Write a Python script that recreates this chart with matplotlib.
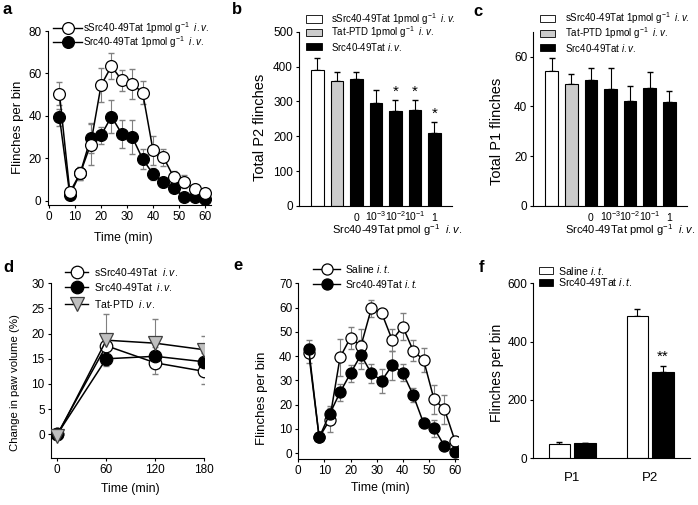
import numpy as np
import matplotlib
matplotlib.use('Agg')
import matplotlib.pyplot as plt
from matplotlib.lines import Line2D
from matplotlib.patches import Rectangle

plt.rcParams['font.family'] = 'Liberation Sans'
plt.rcParams['mathtext.fontset'] = 'custom'
plt.rcParams['mathtext.rm'] = 'Liberation Sans'
plt.rcParams['mathtext.it'] = 'Liberation Sans:italic'
plt.rcParams['font.size'] = 8

# ---- data ----
# a: flinches per 4-min bin, i.v. peptides
time_a = [4, 8, 12, 16, 20, 24, 28, 32, 36, 40, 44, 48, 52, 56, 60]
ssrc_a = [50.5, 4, 13, 26.5, 54.4, 63.4, 56.8, 55, 51, 23.7, 20.5, 11, 9, 5.5, 3.6]
ssrc_a_err = [5.5, 2, 3, 9.5, 8, 6, 5, 7, 5.5, 7, 4, 3, 3, 2, 2]
src_a = [39.4, 2.7, 13, 29.5, 30.8, 39.7, 31.5, 30, 19.7, 12.6, 8.7, 6, 1.6, 1.6, 0.6]
src_a_err = [4, 1.5, 3, 7, 4, 7.6, 6.5, 8, 4.5, 3, 2, 2, 1.5, 1.5, 1]

# b, c: totals per group
groups_bc = ['sSrc', 'Tat-PTD', '0', '1e-3', '1e-2', '1e-1', '1']
p2_b = [390, 358, 365, 295, 273, 275, 210]
p2_b_err = [35, 25, 20, 37, 30, 28, 30]
p2_b_sig = ['', '', '', '', '*', '*', '*']
p1_c = [54.4, 49.1, 50.7, 47.0, 42.1, 47.4, 41.8]
p1_c_err = [4.9, 4.0, 4.7, 8.4, 6.2, 6.6, 4.3]
dose_labels = ['0', r'10$^{-3}$', r'10$^{-2}$', r'10$^{-1}$', '1']
bar_colors = ['white', '#cccccc', 'black', 'black', 'black', 'black', 'black']

# d: paw volume
time_d = [0, 60, 120, 180]
ssrc_d = [0, 17.6, 14.2, 12.5]
ssrc_d_err = [0, 2.0, 2.3, 2.5]
src_d = [0, 15.0, 15.5, 14.4]
src_d_err = [0, 1.5, 1.8, 1.8]
tat_d = [-0.3, 18.7, 18.1, 16.8]
tat_d_err = [0, 5.2, 4.8, 2.8]

# e: i.t. time course
time_e = [4, 8, 12, 16, 20, 24, 28, 32, 36, 40, 44, 48, 52, 56, 60]
saline_e = [41.2, 6.5, 13.7, 39.5, 47.6, 44.2, 59.7, 57.6, 46.6, 52.2, 42.3, 38.4, 22.2, 18.1, 5.2]
saline_e_err = [4, 1.5, 5, 7.5, 4.5, 7, 3.5, 2, 4.5, 5.4, 4.5, 5, 6, 6, 1.5]
src_e = [43, 6.5, 16.1, 25.1, 32.9, 40.5, 32.9, 29.9, 36.3, 33.2, 24, 12.4, 10.3, 3, 0.7]
src_e_err = [3.5, 1.5, 3.5, 3.5, 3.5, 6, 4, 5, 6, 3.5, 3, 2, 3.5, 1.5, 1]

# f: phase totals
phases = ['P1', 'P2']
saline_f = [48, 487]
saline_f_err = [7, 24]
src_f = [51, 297]
src_f_err = [3, 21]
src_f_sig = ['', '**']

W, H = 698, 505
fig = plt.figure(figsize=(W / 100, H / 100), dpi=100)


def box(l, t, r, b):
    return [l / W, 1 - b / H, (r - l) / W, (b - t) / H]


def fxy(x, y):
    return x / W, 1 - y / H


def style(ax):
    ax.spines['top'].set_visible(False)
    ax.spines['right'].set_visible(False)
    for s in ('left', 'bottom'):
        ax.spines[s].set_linewidth(0.8)
    ax.tick_params(direction='out', length=2.5, width=0.8, labelsize=8.5, pad=1.8)


def place_label(ax, which, px, py):
    bb = ax.get_position()
    l, r = bb.x0 * W, bb.x1 * W
    t, b = (1 - bb.y1) * H, (1 - bb.y0) * H
    axis = ax.yaxis if which == 'y' else ax.xaxis
    axis.set_label_coords((px - l) / (r - l), (b - py) / (b - t))


def leg_line(x0, x1, y, text, tx, fs, **kw):
    xa, ya = fxy(x0, y)
    xb, _ = fxy(x1, y)
    fig.add_artist(Line2D([xa, xb], [ya, ya], color='black', lw=1.0,
                          transform=fig.transFigure))
    fig.add_artist(Line2D([(xa + xb) / 2], [ya], linestyle='none',
                          transform=fig.transFigure, **kw))
    fig.text(*fxy(tx, y), text, fontsize=fs, va='center', ha='left')


def leg_patch(x0, x1, y, h, color, text, tx, fs):
    xa, ya = fxy(x0, y + h / 2)
    fig.add_artist(Rectangle((xa, ya), (x1 - x0) / W, h / H, facecolor=color,
                             edgecolor='black', lw=0.6, transform=fig.transFigure))
    fig.text(*fxy(tx, y), text, fontsize=fs, va='center', ha='left')


ERR_GRAY = '#808080'
open_kw = dict(marker='o', mfc='white', mec='black', mew=0.9)
fill_kw = dict(marker='o', mfc='black', mec='black', mew=0.9)

# ---------------- a ----------------
ax = fig.add_axes(box(47.5, 31, 211, 205))
style(ax)
ax.errorbar(time_a, ssrc_a, yerr=ssrc_a_err, fmt='none', ecolor=ERR_GRAY,
            elinewidth=0.8, capsize=2, zorder=1)
ax.errorbar(time_a, src_a, yerr=src_a_err, fmt='none', ecolor=ERR_GRAY,
            elinewidth=0.8, capsize=2, zorder=1)
ax.plot(time_a, src_a, color='black', lw=1.1, ms=8.5, zorder=3, **fill_kw)
ax.plot(time_a, ssrc_a, color='black', lw=1.1, ms=8.5, zorder=4, **open_kw)
ax.set_xlim(-0.6, 62.3)
ax.set_ylim(-2, 80)
ax.set_xticks(range(0, 61, 10))
ax.set_yticks(range(0, 81, 20))
ax.set_ylabel('Flinches per bin', fontsize=9.5, va='center')
ax.set_xlabel('Time (min)', fontsize=8.8, va='center')
place_label(ax, 'y', 18.3, 127)
place_label(ax, 'x', 123.3, 238.3)
leg_line(53.3, 81.7, 28.3, r'sSrc40-49Tat 1pmol g$^{-1}$  $\mathit{i.v.}$', 83.3, 7.1,
         ms=8.5, **open_kw)
leg_line(53.3, 81.7, 41.7, r'Src40-49Tat 1pmol g$^{-1}$  $\mathit{i.v.}$', 83.3, 7.1,
         ms=8.5, **fill_kw)
fig.text(*fxy(7, 10), 'a', fontsize=12, fontweight='bold', ha='center', va='center')


# ---------------- b, c ----------------
def bar_panel(rect, vals, errs, ylim, yticks, ylabel, ylab_pos, xlab_pos, sig=None):
    ax = fig.add_axes(box(*rect))
    style(ax)
    x = np.arange(len(vals))
    ax.bar(x, vals, width=0.64, color=bar_colors, edgecolor='black', lw=0.8, zorder=2)
    ax.errorbar(x, vals, yerr=[np.zeros(len(errs)), errs], fmt='none', ecolor='black',
                elinewidth=0.8, capsize=2.5, zorder=1)
    if sig is not None:
        for xi, v, e, s in zip(x, vals, errs, sig):
            if s:
                ax.text(xi, v + e + ylim[1] * 0.008, s, ha='center', va='bottom', fontsize=11)
    ax.set_xlim(-0.94, 6.9)
    ax.set_ylim(*ylim)
    ax.set_yticks(yticks)
    ax.set_xticks(x[2:])
    ax.set_xticklabels(dose_labels, fontsize=7.5)
    for lab in ax.get_xticklabels():
        lab.set_va('baseline')
    ax.tick_params(axis='x', length=0, pad=11)
    ax.set_ylabel(ylabel, fontsize=10.5, va='center')
    ax.set_xlabel(r'Src40-49Tat pmol g$^{-1}$  $\mathit{i.v.}$', fontsize=8, va='center')
    place_label(ax, 'y', *ylab_pos)
    place_label(ax, 'x', *xlab_pos)
    return ax


bar_panel((299, 31.7, 452, 206), p2_b, p2_b_err, (0, 500), range(0, 501, 100),
          'Total P2 flinches', (260, 127.5), (397, 230.5), sig=p2_b_sig)
bar_panel((533.3, 31.7, 687, 206), p1_c, p1_c_err, (0, 70), range(0, 61, 20),
          'Total P1 flinches', (496.7, 131), (630, 230.5))

leg_bc = [r'sSrc40-49Tat 1pmol g$^{-1}$  $\mathit{i.v.}$',
          r'Tat-PTD 1pmol g$^{-1}$  $\mathit{i.v.}$',
          r'Src40-49Tat $\mathit{i.v.}$']
for lab, col, yb, yc in zip(leg_bc, bar_colors[:3], [19, 32.3, 46.7], [18.3, 33.3, 47.7]):
    leg_patch(306, 322, yb, 7.5, col, lab, 331, 7.0)
    leg_patch(540, 555, yc, 7.5, col, lab, 565, 7.0)
fig.text(*fxy(237, 10), 'b', fontsize=12, fontweight='bold', ha='center', va='center')
fig.text(*fxy(478, 12), 'c', fontsize=12, fontweight='bold', ha='center', va='center')

# ---------------- d ----------------
ax = fig.add_axes(box(50.7, 283.3, 204.3, 457.7))
style(ax)
tri_kw = dict(marker='v', mfc='#bfbfbf', mec='#404040', mew=0.9)
ax.errorbar(time_d, ssrc_d, yerr=[ssrc_d_err, np.zeros(4)], fmt='none', ecolor=ERR_GRAY,
            elinewidth=0.8, capsize=2, zorder=1)
ax.errorbar(time_d, src_d, yerr=src_d_err, fmt='none', ecolor=ERR_GRAY,
            elinewidth=0.8, capsize=2, zorder=1)
ax.errorbar(time_d, tat_d, yerr=[np.zeros(4), tat_d_err], fmt='none', ecolor=ERR_GRAY,
            elinewidth=0.8, capsize=2, zorder=1)
ax.plot(time_d, ssrc_d, color='black', lw=1.1, ms=9, zorder=3, **open_kw)
ax.plot(time_d, src_d, color='black', lw=1.1, ms=9, zorder=4, **fill_kw)
ax.plot(time_d, tat_d, color='black', lw=1.1, ms=10, zorder=5, **tri_kw)
ax.set_xlim(-8, 180)
ax.set_ylim(-4.65, 30)
ax.set_xticks(time_d)
ax.set_yticks(range(0, 31, 5))
ax.set_ylabel('Change in paw volume (%)', fontsize=8.2, va='center')
ax.set_xlabel('Time (min)', fontsize=8.8, va='center')
place_label(ax, 'y', 15, 382.5)
place_label(ax, 'x', 130, 489)
leg_line(65, 88.3, 271.7, r'sSrc40-49Tat  $\mathit{i.v.}$', 94.3, 7.5, ms=9, **open_kw)
leg_line(65, 88.3, 287.3, r'Src40-49Tat  $\mathit{i.v.}$', 94.3, 7.5, ms=9, **fill_kw)
leg_line(65, 88.3, 304.3, r'Tat-PTD  $\mathit{i.v.}$', 94.3, 7.5, ms=10, **tri_kw)
fig.text(*fxy(8, 267), 'd', fontsize=12, fontweight='bold', ha='center', va='center')

# ---------------- e ----------------
ax = fig.add_axes(box(298.3, 283.3, 458.3, 459.3))
style(ax)
ax.errorbar(time_e, saline_e, yerr=saline_e_err, fmt='none', ecolor=ERR_GRAY,
            elinewidth=0.8, capsize=2, zorder=1)
ax.errorbar(time_e, src_e, yerr=src_e_err, fmt='none', ecolor=ERR_GRAY,
            elinewidth=0.8, capsize=2, zorder=1)
ax.plot(time_e, saline_e, color='black', lw=1.1, ms=8, zorder=3, **open_kw)
ax.plot(time_e, src_e, color='black', lw=1.1, ms=8, zorder=4, **fill_kw)
ax.set_xlim(0, 61.3)
ax.set_ylim(-2.5, 70)
ax.set_xticks(range(0, 61, 10))
ax.set_yticks(range(0, 71, 10))
ax.set_ylabel('Flinches per bin', fontsize=9.5, va='center')
ax.set_xlabel('Time (min)', fontsize=8.8, va='center')
place_label(ax, 'y', 261.7, 398)
place_label(ax, 'x', 380, 488.5)
leg_line(313.3, 340, 269.3, r'Saline $\mathit{i.t.}$', 345, 7.4, ms=8, **open_kw)
leg_line(313.3, 340, 284.3, r'Src40-49Tat $\mathit{i.t.}$', 345, 7.4, ms=8, **fill_kw)
fig.text(*fxy(238, 266), 'e', fontsize=12, fontweight='bold', ha='center', va='center')

# ---------------- f ----------------
ax = fig.add_axes(box(533.3, 283.3, 690, 458.3))
style(ax)
xf = np.arange(len(phases))
off, bw = 0.164, 0.276
ax.bar(xf - off, saline_f, width=bw, color='white', edgecolor='black', lw=0.8, zorder=2)
ax.bar(xf + off, src_f, width=bw, color='black', edgecolor='black', lw=0.8, zorder=2)
ax.errorbar(xf - off, saline_f, yerr=[np.zeros(2), saline_f_err], fmt='none',
            ecolor='black', elinewidth=0.8, capsize=2.5, zorder=1)
ax.errorbar(xf + off, src_f, yerr=[np.zeros(2), src_f_err], fmt='none',
            ecolor='black', elinewidth=0.8, capsize=2.5, zorder=1)
for xi, v, e, s in zip(xf + off, src_f, src_f_err, src_f_sig):
    if s:
        ax.text(xi, v + e + 6, s, ha='center', va='bottom', fontsize=11)
ax.set_xlim(-0.5, 1.51)
ax.set_ylim(0, 600)
ax.set_yticks(range(0, 601, 200))
ax.set_xticks(xf)
ax.set_xticklabels(phases, fontsize=9.5)
ax.tick_params(axis='x', length=0, pad=10)
ax.set_ylabel('Flinches per bin', fontsize=10, va='center')
place_label(ax, 'y', 496.7, 373)
leg_patch(539, 553, 270.7, 7, 'white', r'Saline $\mathit{i.t.}$', 558, 7.6)
leg_patch(539, 553, 282.3, 7, 'black', r'Src40-49Tat $\mathit{i.t.}$', 558, 7.6)
fig.text(*fxy(481.7, 268), 'f', fontsize=12, fontweight='bold', ha='center', va='center')

fig.savefig('out.png', dpi=100)
